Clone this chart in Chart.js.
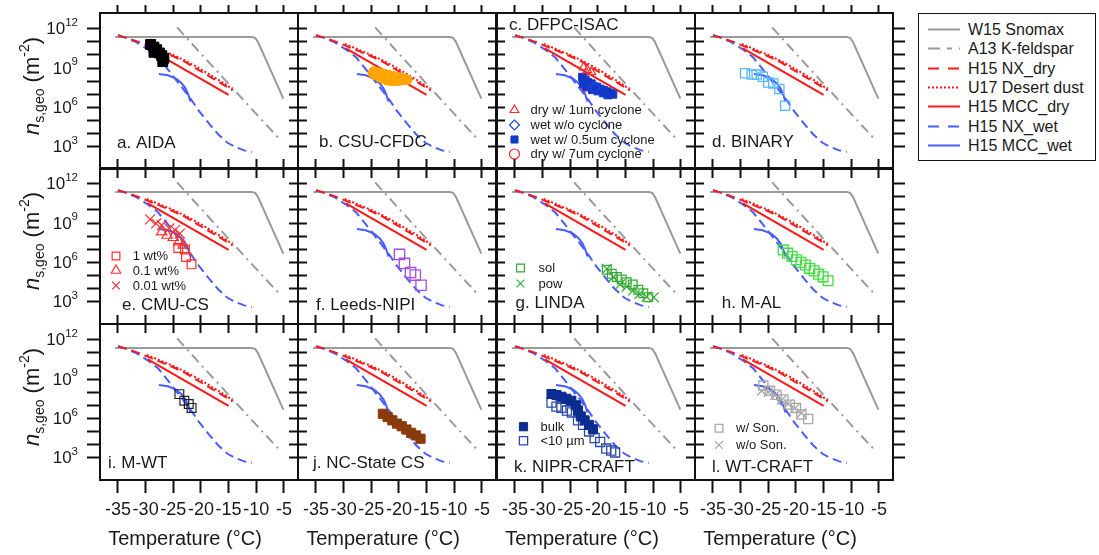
<!DOCTYPE html>
<html><head><meta charset="utf-8"><title>n_s,geo vs temperature</title>
<script src="https://cdn.jsdelivr.net/npm/chart.js@4.4.1/dist/chart.umd.min.js"></script>
<style>
html,body{margin:0;padding:0;background:#fff}
body{width:1099px;height:555px;position:relative;overflow:hidden;font-family:Arial,"Liberation Sans",Helvetica,sans-serif;color:#1a1a1a}
canvas.cv{position:absolute}
.ytitle{position:absolute;font-size:22px;white-space:nowrap;transform:translate(-50%,-50%) rotate(-90deg);line-height:1}
.ytitle sub{font-size:14px;vertical-align:-5px;line-height:0}
.ytitle sup{font-size:14px;vertical-align:10px;line-height:0}
.xtitle{position:absolute;font-size:20px;white-space:nowrap;transform:translate(-50%,-50%);line-height:1}
#legend{position:absolute;left:918px;top:13px;width:176px;height:146px;border:1.5px solid #111;background:#fff}
.lrow{position:absolute;left:0;height:19px;width:176px;font-size:16px;white-space:nowrap}
</style></head><body>
<div id="legend"></div>
<script>
// ---------------- data (T in °C, values are log10 of n_s,geo in m^-2) ----------------
const tempTicks = [-35, -30, -25, -20, -15, -10, -5];
const expTicks = [3, 4, 5, 6, 7, 8, 9, 10, 11, 12];
const expLabels = [3, 6, 9, 12];

const panelTitles = ['a. AIDA', 'b. CSU-CFDC', 'c. DFPC-ISAC', 'd. BINARY', 'e. CMU-CS', 'f. Leeds-NIPI',
                     'g. LINDA', 'h. M-AL', 'i. M-WT', 'j. NC-State CS', 'k. NIPR-CRAFT', 'l. WT-CRAFT'];

// reference parameterisations
const snomaxT = [-35.5, -10.8, -10.2, -9.7, -5.1];
const snomaxLogNs = [11.37, 11.37, 11.3, 11.0, 6.67];
const kfeldsparT = [-24.3, -20, -15, -10, -5.7];
const kfeldsparLogNs = [12.1, 10.1, 7.8, 5.5, 3.55];
const nxDryT = [-35, -33, -31, -29, -27, -25, -23, -21, -19, -17, -15, -14.3];
const nxDryLogNs = [11.5, 11.25, 10.95, 10.6, 10.25, 9.9, 9.5, 9.0, 8.5, 8.0, 7.5, 7.3];
const desertDustT = [-29.8, -27, -25, -23, -21, -19, -17, -15, -14.0];
const desertDustLogNs = [10.85, 10.35, 10.0, 9.6, 9.15, 8.65, 8.15, 7.6, 7.25];
const mccDryT = [-29.6, -22.3, -15.0];
const mccDryLogNs = [10.5, 8.72, 6.95];
const nxWetT = [-35, -33.5, -31.7, -29.7, -27.7, -25.8, -23.4, -21.6, -20.3, -18.6, -16.9, -15.2, -13.6, -12.2, -10.8];
const nxWetLogNs = [11.5, 11.3, 10.98, 10.45, 9.8, 8.8, 7.5, 6.5, 5.7, 4.8, 3.95, 3.3, 2.95, 2.72, 2.6];
const mccWetT = [-27.6, -26.0, -24.5, -23.5, -22.8, -22.3, -21.9];
const mccWetLogNs = [8.55, 8.45, 8.2, 7.85, 7.45, 7.0, 6.45];

// instrument data
const aidaT = [-29.1, -28.5, -28.0, -28.5, -27.5, -27.1, -26.7, -26.9];
const aidaLogNs = [10.8, 10.6, 10.4, 10.2, 10.15, 9.95, 9.75, 9.5];
const csuT = [-24.6, -23.9, -23.2, -22.5, -21.8, -21.1, -20.4, -19.7, -19.0, -18.5,
              -24.8, -24.1, -23.4, -22.7, -22.0, -21.3, -20.6, -19.9, -19.2, -18.5,
              -24.3, -23.6, -22.9, -22.2, -21.5, -20.8, -20.1, -19.4, -18.7];
const csuLogNs = [8.76, 8.7, 8.62, 8.55, 8.48, 8.4, 8.33, 8.26, 8.2, 8.12,
                  8.6, 8.55, 8.45, 8.35, 8.27, 8.22, 8.18, 8.15, 8.13, 8.1,
                  8.45, 8.3, 8.15, 8.05, 8.0, 8.0, 8.02, 8.05, 8.08];
const dfpcDry1T = [-22.6, -21.9, -21.2];
const dfpcDry1LogNs = [9.05, 8.85, 8.7];
const dfpcWetNoCycT = [-20.6];
const dfpcWetNoCycLogNs = [7.5];
const dfpcWet05T = [-22.8, -22.3, -22.6, -21.8, -21.2, -20.8, -20.2, -19.6, -19.0, -18.4, -17.8, -17.3, -22.0, -21.0, -20.0, -19.0, -18.2];
const dfpcWet05LogNs = [8.3, 8.1, 7.8, 7.9, 7.8, 7.6, 7.55, 7.4, 7.3, 7.2, 7.1, 7.0, 7.6, 7.35, 7.25, 7.1, 6.95];
const dfpcDry7T = [-22.2];
const dfpcDry7LogNs = [7.55];
const binaryT = [-29.2, -28.0, -27.1, -26.0, -25.0, -24.1, -23.0, -21.95];
const binaryLogNs = [8.6, 8.5, 8.5, 8.34, 7.9, 7.83, 7.4, 6.12];
const cmu1T = [-24.1, -22.9, -22.7, -21.7];
const cmu1LogNs = [7.1, 6.98, 6.41, 5.85];
const cmu01T = [-27.1, -26.1, -25.0, -24.0, -23.2];
const cmu01LogNs = [8.33, 8.07, 7.9, 7.56, 7.31];
const cmu001T = [-29.2, -28.1, -27.1, -25.7, -24.7, -23.8];
const cmu001LogNs = [9.28, 8.97, 8.84, 8.59, 8.46, 8.2];
const leedsT = [-19.9, -19.0, -17.9, -17.05, -16.0];
const leedsLogNs = [6.61, 5.92, 5.23, 5.03, 4.26];
const lindaSolT = [-18.4, -17.5, -16.6, -15.7, -14.8, -13.7, -12.7, -11.8, -10.9];
const lindaSolLogNs = [5.44, 5.14, 4.88, 4.7, 4.49, 4.32, 3.91, 3.65, 3.34];
const lindaPowT = [-18.4, -17.2, -16.0, -14.8, -13.6, -12.5, -11.2, -9.9];
const lindaPowLogNs = [5.5, 4.88, 4.32, 4.16, 3.86, 3.6, 3.39, 3.34];
const malT = [-22.3, -21.5, -20.7, -19.9, -19.1, -18.3, -17.5, -16.7, -15.9, -15.1, -14.2];
const malLogNs = [6.95, 6.7, 6.45, 6.2, 6.0, 5.8, 5.55, 5.35, 5.1, 4.9, 4.6];
const mwtT = [-23.9, -23.0, -22.2, -21.7];
const mwtLogNs = [7.85, 7.35, 7.1, 6.8];
const ncsT = [-22.9, -22.05, -21.2, -20.35, -19.5, -18.65, -17.8, -16.95, -16.1];
const ncsLogNs = [6.35, 6.1, 5.85, 5.6, 5.4, 5.15, 4.9, 4.7, 4.45];
const niprBulkT = [-28.4, -27.5, -26.6, -25.7, -24.8, -24.0, -23.6, -23.1, -22.4, -21.6, -20.9];
const niprBulkLogNs = [7.86, 7.78, 7.65, 7.5, 7.35, 7.0, 6.6, 6.15, 5.85, 5.5, 5.17];
const niprSmallT = [-28.4, -27.5, -26.6, -25.6, -24.7, -23.6, -22.7, -21.6, -20.6, -19.6, -18.5, -17.6, -16.9];
const niprSmallLogNs = [7.2, 6.9, 6.8, 6.6, 6.45, 5.85, 5.5, 5.0, 4.5, 4.2, 3.7, 3.55, 3.4];
const wtSonT = [-25.9, -24.7, -23.5, -22.3, -21.1, -20.0, -19.0, -17.8];
const wtSonLogNs = [8.5, 8.1, 7.8, 7.45, 7.05, 6.8, 6.3, 5.95];
const wtNoSonT = [-26.2, -25.0, -23.8, -22.6, -21.4, -20.2, -19.0];
const wtNoSonLogNs = [8.1, 8.0, 7.75, 7.4, 7.1, 6.75, 6.4];

const legendLabels = ['W15 Snomax', 'A13 K-feldspar', 'H15 NX_dry', 'U17 Desert dust', 'H15 MCC_dry', 'H15 NX_wet', 'H15 MCC_wet'];

// ---------------- styles & layout ----------------
const FONT = 'Arial, "Liberation Sans", Helvetica, sans-serif';
const RED = 'rgb(255,24,24)', BLUE = 'rgb(72,92,255)', GRAY = '#9a9a9a';
const lineStyles = {
  snomax:   {color: GRAY, dash: [], legendDash: ''},
  feldspar: {color: GRAY, dash: [10, 5, 2, 5], legendDash: '12,7,5,7'},
  nxDry:    {color: RED, dash: [9, 5], legendDash: '11,9'},
  dust:     {color: RED, dash: [2, 2], legendDash: '2,2'},
  mccDry:   {color: RED, dash: [], legendDash: ''},
  nxWet:    {color: BLUE, dash: [9, 5], legendDash: '11,9'},
  mccWet:   {color: BLUE, dash: [], legendDash: ''}
};
const refLines = [ // drawing order: earlier = on top
  {t: nxDryT, v: nxDryLogNs, s: lineStyles.nxDry},
  {t: desertDustT, v: desertDustLogNs, s: lineStyles.dust},
  {t: mccDryT, v: mccDryLogNs, s: lineStyles.mccDry},
  {t: mccWetT, v: mccWetLogNs, s: lineStyles.mccWet},
  {t: nxWetT, v: nxWetLogNs, s: lineStyles.nxWet},
  {t: snomaxT, v: snomaxLogNs, s: lineStyles.snomax},
  {t: kfeldsparT, v: kfeldsparLogNs, s: lineStyles.feldspar}
];
const legendStyleOrder = [lineStyles.snomax, lineStyles.feldspar, lineStyles.nxDry, lineStyles.dust, lineStyles.mccDry, lineStyles.nxWet, lineStyles.mccWet];

const T = 'rgba(0,0,0,0)';
function mk(style, r, fill, stroke, bw) {
  return {pointStyle: style, pointRadius: r, pointBackgroundColor: fill, pointBorderColor: stroke, pointBorderWidth: bw};
}
const mStyles = {
  aida: mk('rect', 7, '#000', '#000', 1),
  csu: mk('circle', 4.5, '#ffa500', '#ffa500', 1),
  dfpcTri: mk('triangle', 5, T, '#ff2a2a', 1.2),
  dfpcDia: mk('rectRot', 5.5, T, '#1c48d8', 1.2),
  dfpcSq: mk('rect', 5.5, '#1238c8', '#1238c8', 1),
  dfpcCirc: mk('circle', 4.2, T, '#ff2a2a', 1.2),
  binary: mk('rect', 6.5, T, '#55b8ff', 1.3),
  cmuSq: mk('rect', 6.2, T, '#ff3030', 1.2),
  cmuTri: mk('triangle', 6, T, '#ff3030', 1.2),
  cmuX: mk('crossRot', 7, T, '#ff3030', 1.2),
  leeds: mk('rect', 7.3, T, '#a64ce8', 1.3),
  lindaSq: mk('rect', 6.2, T, '#33aa33', 1.2),
  lindaX: mk('crossRot', 7, T, '#33aa33', 1.2),
  mal: mk('rect', 7, T, '#44dd44', 1.3),
  mwt: mk('rect', 6.2, T, '#222', 1.2),
  ncs: mk('rect', 6.5, '#8b3a0c', '#8b3a0c', 1),
  niprBulk: mk('rect', 6.4, '#0c2d8f', '#0c2d8f', 1),
  niprSmall: mk('rect', 6.4, T, '#2a4aa8', 1.3),
  wtSon: mk('rect', 6.5, T, '#a8a8a8', 1.3),
  wtNoSon: mk('crossRot', 6.5, T, '#a8a8a8', 1.3)
};

const panelMarkers = [
  [{t: aidaT, v: aidaLogNs, m: mStyles.aida}],
  [{t: csuT, v: csuLogNs, m: mStyles.csu}],
  [{t: dfpcDry1T, v: dfpcDry1LogNs, m: mStyles.dfpcTri}, {t: dfpcWetNoCycT, v: dfpcWetNoCycLogNs, m: mStyles.dfpcDia},
   {t: dfpcWet05T, v: dfpcWet05LogNs, m: mStyles.dfpcSq}, {t: dfpcDry7T, v: dfpcDry7LogNs, m: mStyles.dfpcCirc}],
  [{t: binaryT, v: binaryLogNs, m: mStyles.binary}],
  [{t: cmu1T, v: cmu1LogNs, m: mStyles.cmuSq}, {t: cmu01T, v: cmu01LogNs, m: mStyles.cmuTri}, {t: cmu001T, v: cmu001LogNs, m: mStyles.cmuX}],
  [{t: leedsT, v: leedsLogNs, m: mStyles.leeds}],
  [{t: lindaSolT, v: lindaSolLogNs, m: mStyles.lindaSq}, {t: lindaPowT, v: lindaPowLogNs, m: mStyles.lindaX}],
  [{t: malT, v: malLogNs, m: mStyles.mal}],
  [{t: mwtT, v: mwtLogNs, m: mStyles.mwt}],
  [{t: ncsT, v: ncsLogNs, m: mStyles.ncs}],
  [{t: niprBulkT, v: niprBulkLogNs, m: mStyles.niprBulk}, {t: niprSmallT, v: niprSmallLogNs, m: mStyles.niprSmall}],
  [{t: wtSonT, v: wtSonLogNs, m: mStyles.wtSon}, {t: wtNoSonT, v: wtNoSonLogNs, m: mStyles.wtNoSon}]
];

// in-panel legends: marker dataset index, label, positions relative to panel top-left
const panelLegends = {
  2: {tx: 33.5, r: 5, items: [[0, 'dry w/ 1um cyclone', 17.5, 97], [1, 'wet w/o cyclone', 17.5, 112], [2, 'wet w/ 0.5um cyclone', 17.5, 126.5], [3, 'dry w/ 7um cyclone', 17.5, 141]]},
  4: {tx: 32.7, r: 5.5, items: [[0, '1 wt%', 16, 88], [1, '0.1 wt%', 16, 102.5], [2, '0.01 wt%', 16, 117.5]]},
  6: {tx: 41.5, r: 5.5, items: [[0, 'sol', 23.5, 100], [1, 'pow', 23.5, 115.5]]},
  10: {tx: 43.5, r: 5.8, items: [[0, 'bulk', 26.5, 102.7], [1, '<10 \u00b5m', 26.5, 116.7]]},
  11: {tx: 41, r: 5.5, items: [[0, 'w/ Son.', 24, 104.3], [1, 'w/o Son.', 24, 121]]}
};
const titlePos = [[17, 135], [21, 134], [12, 17], [17, 134], [22, 141.5], [18, 141.5], [18.5, 140.3], [26.7, 140.3],
                  [8, 144.3], [15, 144.3], [17, 147.7], [17, 147.7]];

const X_MIN = -38.25, X_MAX = -2.45, Y_MIN = 1.3, Y_MAX = 13.2;
const COL_X = [100, 298, 497, 695], ROW_Y = [13, 168, 324], PW = 198, PH = 156;

// ---------------- plugin drawing panel texts ----------------
function drawMarker(ctx, m, r, x, y) {
  ctx.save();
  ctx.lineWidth = m.pointBorderWidth;
  ctx.strokeStyle = m.pointBorderColor;
  ctx.fillStyle = m.pointBackgroundColor;
  Chart.helpers.drawPoint(ctx, {pointStyle: m.pointStyle, radius: r, borderWidth: m.pointBorderWidth, rotation: 0}, x, y);
  ctx.restore();
}
const decorPlugin = {
  id: 'decor',
  afterDraw(chart, _a, o) {
    const ctx = chart.ctx, a = chart.chartArea;
    const sx = chart.scales.x, sy = chart.scales.y;
    ctx.save();
    ctx.fillStyle = '#1a1a1a';
    ctx.textAlign = 'left';
    ctx.textBaseline = 'alphabetic';
    ctx.font = '17px ' + FONT;
    ctx.fillText(o.title, a.left + o.titleXY[0], a.top + o.titleXY[1]);
    if (o.legend) {
      ctx.font = '13px ' + FONT;
      ctx.textBaseline = 'middle';
      o.legend.items.forEach(([di, text, dx, dy]) => {
        drawMarker(ctx, o.markers[di].m, o.legend.r, a.left + dx, a.top + dy);
        ctx.fillText(text, a.left + o.legend.tx, a.top + dy + 0.5);
      });
    }
    if (o.yLabels) {
      ctx.textBaseline = 'middle';
      expLabels.forEach(e => {
        const y = sy.getPixelForValue(e);
        ctx.font = '17px ' + FONT; const wb = ctx.measureText('10').width;
        ctx.font = '11.5px ' + FONT; const we = ctx.measureText(String(e)).width;
        const x0 = a.left - 22 - wb - we;
        ctx.font = '17px ' + FONT; ctx.fillText('10', x0, y + 1);
        ctx.font = '11.5px ' + FONT; ctx.fillText(String(e), x0 + wb, y - 6);
      });
    }
    if (o.xLabels) {
      ctx.font = '18px ' + FONT;
      ctx.textAlign = 'center';
      ctx.textBaseline = 'middle';
      tempTicks.forEach(t => ctx.fillText(String(t), sx.getPixelForValue(t), a.bottom + 30));
    }
    ctx.restore();
  }
};

function axis(dir, pos, size, tl) {
  const isX = dir === 'x';
  return {
    type: 'linear', axis: dir, position: pos,
    min: isX ? X_MIN : Y_MIN, max: isX ? X_MAX : Y_MAX,
    afterBuildTicks: s => { s.ticks = (isX ? tempTicks : expTicks).map(v => ({value: v})); },
    afterFit: s => { if (isX) s.height = size; else s.width = size; },
    ticks: {display: false},
    grid: {display: true, drawOnChartArea: false, drawTicks: true, tickLength: tl, tickWidth: 2, tickColor: '#111'},
    border: {display: true, color: '#111', width: 2}
  };
}

for (let i = 0; i < 12; i++) {
  const col = i % 4, row = Math.floor(i / 4);
  const padL = col === 0 ? 90 : 12, padT = 12, padR = 14, padB = row === 2 ? 48 : 12;
  const cw = PW + padL + padR, ch = PH + padT + padB;
  const cv = document.createElement('canvas');
  cv.className = 'cv';
  cv.width = cw; cv.height = ch;
  cv.style.left = (COL_X[col] - padL) + 'px';
  cv.style.top = (ROW_Y[row] - padT) + 'px';
  cv.style.width = cw + 'px'; cv.style.height = ch + 'px';
  document.body.appendChild(cv);
  cv.style.position = 'absolute';

  const datasets = [];
  panelMarkers[i].forEach(s => {
    datasets.push(Object.assign({
      data: s.t.map((t, k) => ({x: t, y: s.v[k]})),
      showLine: false, xAxisID: 'x', yAxisID: 'y'
    }, s.m));
  });
  refLines.forEach(l => {
    datasets.push({
      data: l.t.map((t, k) => ({x: t, y: l.v[k]})),
      showLine: true, pointRadius: 0, borderColor: l.s.color, borderWidth: 2,
      borderDash: l.s.dash, fill: false, tension: 0, xAxisID: 'x', yAxisID: 'y'
    });
  });

  new Chart(cv, {
    type: 'scatter',
    data: {datasets},
    options: {
      responsive: false, animation: false, events: [],
      layout: {padding: 0, autoPadding: false},
      plugins: {
        legend: {display: false}, tooltip: {enabled: false},
        decor: {title: panelTitles[i], titleXY: titlePos[i], legend: panelLegends[i] || null,
                markers: panelMarkers[i], yLabels: col === 0, xLabels: row === 2}
      },
      scales: {
        x: axis('x', 'bottom', padB, row === 2 ? 13 : 9),
        xTop: axis('x', 'top', padT, row === 0 ? 8 : 9),
        y: axis('y', 'left', padL, col === 0 ? 13 : 9),
        yRight: axis('y', 'right', padR, col === 3 ? 12 : 9)
      }
    },
    plugins: [decorPlugin]
  });
}

// axis titles
ROW_Y.forEach(y0 => {
  const d = document.createElement('div');
  d.className = 'ytitle';
  d.style.left = '32px'; d.style.top = (y0 + 73) + 'px';
  d.innerHTML = '<i>n</i><sub>s,geo</sub> (m<sup>-2</sup>)';
  document.body.appendChild(d);
});
COL_X.forEach(x0 => {
  const d = document.createElement('div');
  d.className = 'xtitle';
  d.style.left = (x0 + 85) + 'px'; d.style.top = '538px';
  d.textContent = 'Temperature (\u00b0C)';
  document.body.appendChild(d);
});

// legend box
const lg = document.getElementById('legend');
legendLabels.forEach((lab, k) => {
  const s = legendStyleOrder[k];
  const r = document.createElement('div');
  r.className = 'lrow';
  r.style.top = (6 + k * 19.3) + 'px';
  r.innerHTML = '<svg width="36" height="19" style="position:absolute;left:8px;top:0">' +
    '<line x1="1" y1="9.5" x2="33" y2="9.5" stroke="' + s.color + '" stroke-width="2"' +
    (s.legendDash ? ' stroke-dasharray="' + s.legendDash + '"' : '') + '/></svg>' +
    '<span style="position:absolute;left:49px;top:0;line-height:19px">' + lab + '</span>';
  lg.appendChild(r);
});
</script>
</body></html>
